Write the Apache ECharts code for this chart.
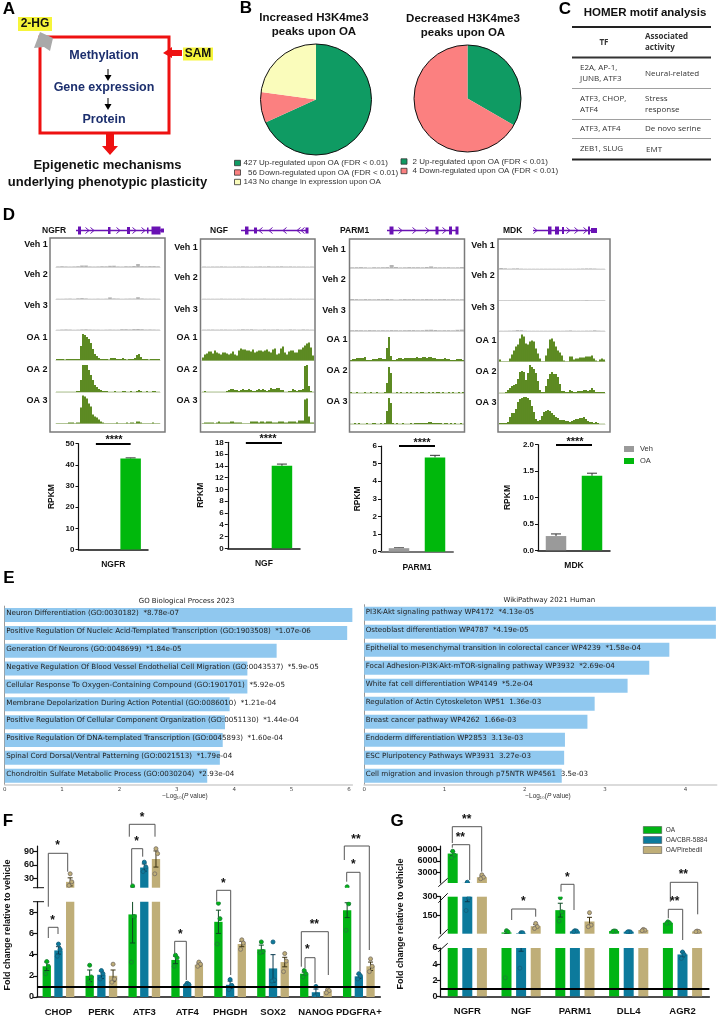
<!DOCTYPE html>
<html><head><meta charset="utf-8">
<style>html,body{margin:0;padding:0;background:#fff}#c{width:719px;height:1017px}</style>
<script src="https://cdn.jsdelivr.net/npm/echarts@6/dist/echarts.min.js"></script>
</head><body><div id="c"></div>
<script>
// ---------- Panel B ----------
const pieIncreasedNames = ['427 Up-regulated upon OA (FDR < 0.01)','56 Down-regulated upon OA (FDR < 0.01)','143 No change in expression upon OA'];
const pieIncreased = [427,56,143];
const pieDecreasedNames = ['2 Up-regulated upon OA (FDR < 0.01)','4 Down-regulated upon OA (FDR < 0.01)'];
const pieDecreased = [2,4];
// ---------- Panel D tracks ----------
const NGFR_Veh1=[.6,.8,.6,.5,.6,.8,1.5,1.5,.6,.5,.6,.8,.7,1.2,1.3,.6,.5,.8,.7,1,3,.8,.7,.9,.9,.7];
const NGFR_Veh2=[.3,.3,.4,.5,.3,.7,.9,.6,.3,.3,.4,.3,.4,1.6,.6,.5,.3,.4,.5,.5,1.8,.6,.4,.4,.4,.3];
const NGFR_Veh3=[.3,.5,.6,.5,.3,.4,.6,.7,.5,.4,.4,.3,.4,.5,.4,.4,.8,.8,.6,.9,1,.8,.5,.6,.5,.4];
const NGF_Veh1=[.5,.4,.5,.5,.6,.5,.4,.5,.5,.6,.5,.4,.5,.6,.5,.7,.5,.6,.7,.5,.6,.5,.5,.5,.4,.5];
const NGF_Veh2=[.3,.3,.3,.3,.4,.3,.3,.3,.3,.4,.3,.3,.3,.3,.4,.3,.3,.3,.3,.3,.4,.3,.3,.3,.3,.3];
const NGF_Veh3=[.4,.5,.5,.4,.5,.5,.4,.4,.5,.7,.6,.7,.5,.4,.6,.5,.5,.6,.4,.4,.6,.5,.4,.6,.5,.4];
const PARM1_Veh1=[.7,.8,.9,.7,.5,.8,.7,.8,.9,3,1,.6,.7,.9,.8,.8,.7,1,1.6,.8,.7,.7,.8,.6,.7,1];
const PARM1_Veh2=[1,.9,.7,.9,.8,.7,.9,.8,1,.8,.4,.7,.9,.8,.9,.7,.8,.9,.8,.7,.8,.9,.7,.8,.7,.8];
const PARM1_Veh3=[.8,.9,.8,.7,.9,.8,.7,.8,.7,.9,.8,.7,.8,.9,.9,.7,.8,1.2,1.3,1,.7,.8,.8,.7,1.2,1.4];
const MDK_Veh1=[1,.7,.4,.6,.7,.4,.3,.3,.3,.3,.3,.3,.3,.3,.3,.3,.3,.3,.3,.4,.5,.6,.6,.5,.3,.3];
const MDK_Veh2=[.2,.2,.2,.2,.2,.2,.2,.2,.2,.2,.2,.2,.2,.2,.2,.2,.2,.2,.2,.2,.2,.5,.2,.2,.2,.2];
const MDK_Veh3=[.3,.3,.4,.5,.9,.8,.4,.3,.3,.3,.3,.3,.3,.3,.3,.3,.4,.6,.3,.3,.3,.4,.4,.7,.4,.3];
const NGFR_OA1=[1,1,1,1,.5,1,1,1,1,1,1,1,14,26,25,23,21,17,11,6,4,2,1,1,1,1,.5,2,2,2,1,1,1,2,1,.5,1,1,1,2,5,6,3,1,1,1,.5,1,1,1,1,1];
const NGFR_OA2=[.3,.3,.3,.3,.3,.3,.3,.3,.3,.3,1,1,12,27,27,27,22,17,12,7,5,3,2,1,1,1,.3,.3,.3,1,.3,.3,.3,1,1,.3,.3,1,.3,.3,1,2,1,.3,.3,1,.3,.3,1,1,.3,.3];
const NGFR_OA3=[.3,.3,.3,.3,.3,.3,1,1,1,.3,1,1,16,28,27,25,20,17,9,7,6,4,2,1,.3,.3,.3,.3,.3,.3,1,.3,.3,.3,.3,1,.3,1,1,.3,2,2,1,.3,.3,.3,.3,.3,1,.3,.3,.3];
const NGF_OA1=[3,6,7,9,9,7,10,8,7,6,8,8,7,6,7,9,6,5,10,12,11,11,10,10,9,11,8,9,10,10,9,10,11,9,8,11,12,6,7,12,14,8,6,9,10,10,8,8,11,11,13,15,17,18,13,5];
const NGF_OA2=[.3,1,.3,.3,.3,.3,.3,.3,.3,.3,.3,.3,1,2,3,3,2,2,1,2,3,2,2,3,2,1,1,2,3,2,3,2,1,2,4,3,3,4,4,2,2,.3,.3,1,1,3,2,1,2,2,3,26,27,6,1,.3];
const NGF_OA3=[.3,1,1,1,1,1,.3,1,2,1,1,1,1,1,2,2,1,1,1,1,.3,.3,.3,.3,2,2,2,2,1,2,2,1,2,2,2,1,1,1,2,2,2,1,1,2,2,2,2,1,3,3,3,24,25,7,1,1];
const PARM1_OA1=[1,2,2,3,3,3,3,4,1,1,1,2,2,2,3,3,2,2,13,24,5,1,1,2,3,3,2,3,3,3,3,3,3,4,3,3,4,4,3,4,4,3,3,2,2,2,2,3,2,2,1,1,1,2,2,2,1];
const PARM1_OA2=[1,.3,.3,1,.3,.3,.3,1,.3,.3,1,.3,.3,1,.3,.3,.3,1,10,26,20,.3,.3,1,.3,1,.3,.3,1,.3,1,.3,.3,1,.3,1,1,.3,.3,1,.3,1,.3,1,1,.3,1,.3,.3,1,.3,1,.3,.3,1,.3,1];
const PARM1_OA3=[.3,.3,1,.3,1,.3,.3,.3,1,.3,.3,1,1,.3,.3,1,.3,1,13,26,21,1,.3,1,.3,.3,1,.3,.3,.3,1,.3,1,1,1,1,1,1,1,2,2,1,1,1,1,1,.3,1,1,.3,1,.3,1,.3,.3,1,.3];
const MDK_OA1=[2,.3,.3,.3,.3,3,7,11,15,17,23,27,25,18,17,20,21,20,13,8,3,.3,.3,6,13,22,23,20,15,11,9,6,1,.3,.3,5,5,2,3,3,4,4,4,5,5,5,6,3,1,.3,2,3,2];
const MDK_OA2=[.3,.3,.3,1,3,5,7,8,9,14,21,22,21,13,20,28,26,24,20,12,3,1,1,7,14,19,21,19,19,16,9,2,2,1,1,3,2,1,1,2,2,2,3,3,2,3,5,3,1,1,1,1,1];
const MDK_OA3=[1,1,1,1,2,7,11,11,15,22,25,26,27,27,26,24,18,12,5,3,4,8,12,13,14,13,11,9,7,6,4,4,4,3,3,2,3,4,5,5,6,6,7,5,3,2,2,1,2,1,.3,.3,.3];
// ---------- Panel D RPKM ----------
const rpkmGenes=['NGFR','NGF','PARM1','MDK'];
const rpkmGroups=['Veh','OA'];
const rpkmVeh=[0,0,0.2,0.27];
const rpkmVehErr=[0,0,0.02,0.04];
const rpkmOA=[43,14,5.35,1.41];
const rpkmOAErr=[0.3,0.3,0.12,0.05];
const rpkmMax=[50,18,6,2];
const rpkmStep=[10,2,1,0.5];
// ---------- Panel E ----------
const goTerms=['Neuron Differentiation (GO:0030182)  *8.78e-07','Positive Regulation Of Nucleic Acid-Templated Transcription (GO:1903508)  *1.07e-06','Generation Of Neurons (GO:0048699)  *1.84e-05','Negative Regulation Of Blood Vessel Endothelial Cell Migration (GO:0043537)  *5.9e-05','Cellular Response To Oxygen-Containing Compound (GO:1901701)  *5.92e-05','Membrane Depolarization During Action Potential (GO:0086010)  *1.21e-04','Positive Regulation Of Cellular Component Organization (GO:0051130)  *1.44e-04','Positive Regulation Of DNA-templated Transcription (GO:0045893)  *1.60e-04','Spinal Cord Dorsal/Ventral Patterning (GO:0021513)  *1.79e-04','Chondroitin Sulfate Metabolic Process (GO:0030204)  *2.93e-04'];
const goScores=[6.06,5.97,4.74,4.23,4.23,3.92,3.84,3.80,3.75,3.53];
const wikiTerms=['PI3K-Akt signaling pathway WP4172  *4.13e-05','Osteoblast differentiation WP4787  *4.19e-05','Epithelial to mesenchymal transition in colorectal cancer WP4239  *1.58e-04','Focal Adhesion-PI3K-Akt-mTOR-signaling pathway WP3932  *2.69e-04','White fat cell differentiation WP4149  *5.2e-04','Regulation of Actin Cytoskeleton WP51  1.36e-03','Breast cancer pathway WP4262  1.66e-03','Endoderm differentiation WP2853  3.13e-03','ESC Pluripotency Pathways WP3931  3.27e-03','Cell migration and invasion through p75NTR WP4561  3.5e-03'];
const wikiScores=[4.38,4.38,3.80,3.55,3.28,2.87,2.78,2.50,2.49,2.46];
// ---------- Panel F ----------
const fCats=['CHOP','PERK','ATF3','ATF4','PHGDH','SOX2','NANOG','PDGFRA+'];
const fOA=[2.9,2.0,7.8,3.5,7.1,4.5,2.2,8.2];
const fOAErr=[.4,.55,2.7,.35,1.1,.4,.15,.7];
const fOADots=[[3.35,2.9,2.2],[3.0,1.9,1.4],[13,7.6,3.3],[3.95,3.7,2.9],[8.85,7.4,5.0],[5.2,4.3,4.2],[2.5,2.2,1.9],[11,8.8,6.3]];
const fCBR=[4.4,2.1,54,1.2,1.15,2.7,.45,1.95];
const fCBRErr=[.35,.35,8,.08,.35,1.3,.3,.2];
const fCBRDots=[[5.0,4.5,3.85],[2.5,2.2,1.7],[66,55,45],[1.3,1.2,1.1],[1.65,1.1,.7],[5.2,1.6,1.5],[1.0,.2,.1],[2.2,2.0,1.7]];
const fPir=[22,2.0,73,3.05,5.0,3.3,.55,2.9];
const fPirErr=[9,.55,18,.15,.25,.45,.1,.4];
const fPirDots=[[40,22,14],[3.1,1.7,1.4],[96,85,40],[3.3,3.1,2.9],[5.4,5.1,4.5],[4.1,3.4,2.4],[.7,.6,.4],[3.6,2.9,2.4]];
// ---------- Panel G ----------
const gCats=['NGFR','NGF','PARM1','DLL4','AGR2'];
const gOA=[7900,16,193,27,93];
const gOAErr=[500,8,55,1,3];
const gOADots=[[8500,7500,6800],[30,20,2.3],[292,180,106],[28,26,24],[100,92,88]];
const gCBR=[320,10,25,22,5.2];
const gCBRErr=[60,4.4,3,1,.3];
const gCBRDots=[[500,290,190],[14,13,3.5],[30,27,22],[22,20,19],[5.5,5.2,4.7]];
const gPir=[1800,66,103,35,24];
const gPirErr=[300,12,33,3,2];
const gPirDots=[[2400,1800,1400],[88,62,48],[173,75,62],[40,34,30],[27,24,22]];
const seriesNames=['OA','OA/CBR-5884','OA/Pirebedil'];

// ---------- layout / drawing ----------
const GREEN='#00b414',TEAL='#0c7a9c',TAN='#bfae78';
const DOTEDGE=['#1b7f38','#14607c','#7d7468'], ERRCOL=['#0d4a22','#0a3a50','#3a3010'];
const SANS='"Liberation Sans",Arial,sans-serif';
const option={animation:false,backgroundColor:'#fff',textStyle:{fontFamily:SANS},grid:[],xAxis:[],yAxis:[],series:[],graphic:{elements:[]}};
const G=option.graphic.elements;
const Z=60;
function T(text,x,y,o){o=o||{};G.push({type:'text',z:Z,silent:true,x:x,y:y,rotation:o.rot||0,style:{text:text,fontFamily:o.font||SANS,fontSize:o.size||9,fontWeight:o.w||'normal',fontStyle:o.st||'normal',fill:o.c||'#111',align:o.a||'center',verticalAlign:'middle',rich:o.rich}});}
function L(pts,c,w){G.push({type:'polyline',z:Z,silent:true,shape:{points:pts},style:{stroke:c||'#555',lineWidth:w||1,fill:null}});}
function P(pts,c){G.push({type:'polygon',z:Z,silent:true,shape:{points:pts},style:{fill:c}});}
function R(x,y,w,h,f,s,lw){G.push({type:'rect',z:Z-1,silent:true,shape:{x,y,width:w,height:h},style:{fill:f||'transparent',stroke:s||null,lineWidth:lw||0}});}
const letter=(t,x,y)=>T(t,x,y,{size:17,w:'bold',c:'#000'});
letter('A',9,9);letter('B',246,8);letter('C',565,9);letter('D',9,215);letter('E',9,578);letter('F',8,821);letter('G',397,821);

// Panel A schematic
R(40,37,129,96,null,'#ee1111',3);
const NAVY='#1c2f6e';
T('Methylation',104,55.5,{size:12.5,w:'bold',c:NAVY});
T('Gene expression',104,87.5,{size:12.5,w:'bold',c:NAVY});
T('Protein',104,120,{size:12.5,w:'bold',c:NAVY});
L([[108,69],[108,77]],'#000',1);P([[104.5,75],[111.5,75],[108,81]],'#000');
L([[108,98],[108,106]],'#000',1);P([[104.5,104],[111.5,104],[108,110]],'#000');
P([[106,134],[114,134],[114,146],[118,146],[110,155],[102,146],[106,146]],'#ee1111');
P([[182,50],[172,50],[172,47],[163,53],[172,58],[172,56],[182,56]],'#ee1111');
P([[34,48],[40,32],[53,38],[50,51],[44,47]],'#a9a9a9');
R(18,17,34,14,'#f6f53a');R(183,47.5,30,13,'#f6f53a');
T('2-HG',35,24,{size:12,w:'bold'});T('SAM',198,53.5,{size:12,w:'bold'});
T('Epigenetic mechanisms',107.5,165.5,{size:13,w:'bold'});
T('underlying phenotypic plasticity',107.5,182,{size:13,w:'bold'});

// Panel B pies
const PIEC=['#0f9b63','#fb8080','#fafcbb'];
function pie(names,vals,c,r){
  option.series.push({type:'pie',center:c,radius:[0,r],startAngle:90,clockwise:true,silent:true,label:{show:false},labelLine:{show:false},
    data:vals.map((v,i)=>({name:names[i],value:v,itemStyle:{color:PIEC[i]}}))});
  G.push({type:'circle',z:Z,silent:true,shape:{cx:c[0],cy:c[1],r:r},style:{fill:'transparent',stroke:'#111',lineWidth:1}});
}
pie(pieIncreasedNames,pieIncreased,[316,99.5],55.5);
pie(pieDecreasedNames,pieDecreased,[467.5,98.5],53.5);
T('Increased H3K4me3',314,18,{size:11.5,w:'bold'});T('peaks upon OA',314,32,{size:11.5,w:'bold'});
T('Decreased H3K4me3',463,19,{size:11.5,w:'bold'});T('peaks upon OA',463,33,{size:11.5,w:'bold'});
[[243.5,163],[248,172.5],[243.5,182]].forEach((p,i)=>{R(234.5,p[1]-2.7,6,5.4,PIEC[i],'#333',.8);T(pieIncreasedNames[i],p[0],p[1],{size:8,a:'left',c:'#333'});});
[[412.5,161.5],[412.5,171]].forEach((p,i)=>{R(401,p[1]-2.7,6,5.4,PIEC[i],'#333',.8);T(pieDecreasedNames[i],p[0],p[1],{size:8,a:'left',c:'#333'});});

// Panel C table
const OS='"Open Sans",sans-serif';
T('HOMER motif analysis',645,13,{size:11.5,w:'bold'});
[[27,2,'#222'],[57.5,2,'#333'],[88.5,.8,'#888'],[119.5,.8,'#888'],[138.5,.8,'#888'],[159.5,2,'#222']].forEach(l=>L([[572,l[0]],[711,l[0]]],l[2],l[1]));
const tb=(t,x,y,o)=>T(t,x,y,Object.assign({size:8,font:OS,a:'left',c:'#333'},o||{}));
tb('TF',604,43,{a:'center',w:'bold'});tb('Associated',645,37,{w:'bold'});tb('activity',645,48,{w:'bold'});
tb('E2A, AP-1,',580,68);tb('JUNB, ATF3',580,79);tb('Neural-related',645,73.5);
tb('ATF3, CHOP,',580,99);tb('ATF4',580,110);tb('Stress',645,99);tb('response',645,110);
tb('ATF3, ATF4',580,129);tb('De novo serine',645,129);tb('ZEB1, SLUG',580,149);tb('EMT',646,149.5);

// Panel D tracks
function track(arr,left,right,base,color,lineCol){
  const i=option.grid.length;
  option.grid.push({left:left,width:right-left,top:base-29,height:29});
  option.xAxis.push({type:'category',gridIndex:i,data:arr.map((_,k)=>k),axisLabel:{show:false},axisTick:{show:false},axisLine:{show:true,onZero:false,lineStyle:{color:lineCol,width:1}}});
  option.yAxis.push({type:'value',gridIndex:i,min:0,max:29,show:false,splitLine:{show:false}});
  option.series.push({type:'bar',xAxisIndex:i,yAxisIndex:i,data:arr,barCategoryGap:'8%',silent:true,itemStyle:{color:color}});
}
const tracks=[
 {name:'NGFR',l:56,r:160,base:[267,299,330,360,392,423.5],data:[NGFR_Veh1,NGFR_Veh2,NGFR_Veh3,NGFR_OA1,NGFR_OA2,NGFR_OA3],box:[50,238,115,194],gx:42,lx:[36,36,36,37,37,37],ly:[245,275,306,338,370,401]},
 {name:'NGF',l:202,r:314,base:[267,299,330,360.5,392,423.5],data:[NGF_Veh1,NGF_Veh2,NGF_Veh3,NGF_OA1,NGF_OA2,NGF_OA3],box:[200.5,239,114.5,193],gx:210,lx:[186,186,186,187,187,187],ly:[248,278,310,338,370,401]},
 {name:'PARM1',l:350,r:464,base:[268,300,331,361,393,424],data:[PARM1_Veh1,PARM1_Veh2,PARM1_Veh3,PARM1_OA1,PARM1_OA2,PARM1_OA3],box:[349.5,239,115,193],gx:340,lx:[334,334,334,337,337,337],ly:[250,280,311,340,371,402]},
 {name:'MDK',l:499,r:605,base:[269,300.5,331,361.5,393,424],data:[MDK_Veh1,MDK_Veh2,MDK_Veh3,MDK_OA1,MDK_OA2,MDK_OA3],box:[498,239,112,193],gx:503,lx:[483,483,483,486,486,486],ly:[246,276,308,341,372,403]}
];
const trackLabels=['Veh 1','Veh 2','Veh 3','OA 1','OA 2','OA 3'];
tracks.forEach(t=>{
  t.data.forEach((d,i)=>track(d,t.l,t.r,t.base[i],i<3?'#b4b4b4':'#4f8010',i<3?'#d6d6d6':'#cfd8c0'));
  R(t.box[0],t.box[1],t.box[2],t.box[3],null,'#7a7a7a',1.5);
  T(t.name,t.gx,231,{size:8.5,w:'bold',a:'left'});
  trackLabels.forEach((s,i)=>T(s,t.lx[i],t.ly[i],{size:9,w:'bold'}));
});
// gene models
const PUR='#6a12b4';
function gene(x1,x2,exons,chev,dir){
  const y=230.5;L([[x1,y],[x2,y]],PUR,1.4);
  exons.forEach(e=>R(e[0],y-e[2]/2,e[1],e[2],PUR));
  chev.forEach(x=>L([[x-dir*2.5,y-3],[x+dir*1,y],[x-dir*2.5,y+3]],PUR,1));
}
gene(76,162,[[78,3,8],[108,2.5,7],[127,3,7],[147,1.5,6],[151.5,9,8],[160.5,3.5,4]],[88,93,119,135,144],1);
gene(241,308,[[245,3.5,8],[254,3,6],[305.5,3,6]],[260,270,284,298,302],-1);
gene(387,458,[[389.5,4,8],[435.5,3,8],[449,3,8],[455.5,3,8]],[401,415,428,445],1);
gene(533,597,[[548,3.5,8],[555,4,8],[562,2,7],[588,2,8],[591,6,5]],[536,569,577,586],1);

// Panel D RPKM bars
const rpkmGeo=[
 {l:78.5,r:148,t:443.7,b:549.5,n:22,sx:114,sy:437,ax:'#111',aw:1.5},
 {l:227.8,r:300,t:442.3,b:548.3,n:23,sx:268,sy:436,ax:'#111',aw:1.5},
 {l:381,r:453,t:446,b:551.7,n:19,sx:422,sy:440,ax:'#777',aw:2},
 {l:538,r:610,t:444.7,b:550.3,n:26,sx:575,sy:439,ax:'#111',aw:1.5}];
rpkmGenes.forEach((g,k)=>{
  const o=rpkmGeo[k],i=option.grid.length;
  option.grid.push({left:o.l,width:o.r-o.l,top:o.t,height:o.b-o.t});
  option.xAxis.push({type:'category',gridIndex:i,data:rpkmGroups,axisTick:{show:false},axisLabel:{show:false},axisLine:{lineStyle:{color:o.ax,width:o.aw}},name:g,nameLocation:'middle',nameGap:11,nameTextStyle:{fontSize:8.5,fontWeight:'bold',color:'#111'}});
  option.yAxis.push({type:'value',gridIndex:i,min:0,max:rpkmMax[k],interval:rpkmStep[k],splitLine:{show:false},name:'RPKM',nameLocation:'middle',nameGap:o.n,nameTextStyle:{fontSize:8.5,fontWeight:'bold',color:'#111'},axisLine:{show:true,lineStyle:{color:'#111',width:1.2}},axisTick:{show:true,length:3,lineStyle:{color:'#111'}},axisLabel:{fontSize:8,margin:4,color:'#111',fontWeight:'bold',formatter:k===3?(v=>v.toFixed(1)):undefined}});
  option.series.push({type:'bar',xAxisIndex:i,yAxisIndex:i,silent:true,barWidth:20.5,
    data:[{value:rpkmVeh[k],itemStyle:{color:'#9a9a9a'}},{value:rpkmOA[k],itemStyle:{color:'#00b80c'}}],
    markLine:{silent:true,symbol:'none',label:{show:false},lineStyle:{color:'#000',width:2,type:'solid'},data:[[{coord:['Veh',rpkmMax[k]]},{coord:['OA',rpkmMax[k]]}]]}});
  option.series.push({type:'custom',xAxisIndex:i,yAxisIndex:i,silent:true,data:[[0,rpkmVeh[k],rpkmVehErr[k]],[1,rpkmOA[k],rpkmOAErr[k]]],
    renderItem:(p,api)=>{const e=api.value(2);if(!e)return null;const c=api.coord([api.value(0),api.value(1)]),u=api.coord([api.value(0),api.value(1)+e]);
      const st={stroke:'#333',lineWidth:1};return {type:'group',children:[{type:'line',shape:{x1:c[0],y1:c[1],x2:u[0],y2:u[1]},style:st},{type:'line',shape:{x1:c[0]-5,y1:u[1],x2:c[0]+5,y2:u[1]},style:st}]};}});
  T('****',o.sx,o.sy+2.5,{size:11,w:'bold'});
});
R(624,446,10,6,'#9a9a9a');R(624,458,10,6,'#00b80c');
T('Veh',640,449,{size:7.5,a:'left',c:'#333'});T('OA',640,461,{size:7.5,a:'left',c:'#333'});

// Panel E
const DJ='"DejaVu Sans",sans-serif';
function enrich(terms,vals,left,unit,top,step,max,title,ticks){
  const i=option.grid.length,w=unit*max;
  option.grid.push({left:left,width:w,top:top,height:step*terms.length});
  option.xAxis.push({type:'value',gridIndex:i,min:0,max:max,splitLine:{show:false},axisLine:{show:true,lineStyle:{color:'#cfcfcf',width:1.5}},axisTick:{show:false},axisLabel:{fontSize:5.5,margin:2,color:'#444',customValues:ticks,fontFamily:DJ}});
  option.yAxis.push({type:'category',gridIndex:i,inverse:true,data:terms,axisLabel:{show:false},axisTick:{show:false},axisLine:{show:true,lineStyle:{color:'#9a9a9a',width:1}}});
  option.series.push({type:'bar',xAxisIndex:i,yAxisIndex:i,silent:true,data:vals,barWidth:14,itemStyle:{color:'#90c8ef'},
    label:{show:true,position:'insideLeft',distance:1.5,offset:[0,-1.5],fontFamily:DJ,fontSize:7.15,color:'#222',formatter:p=>p.name}});
  T(title,left+w*0.525,top-4.5,{size:7,font:DJ,c:'#222'});
}
enrich(goTerms,goScores,3.3,57.6,606.1,17.85,6.06,'GO Biological Process 2023',[0,1,2,3,4,5,6]);
enrich(wikiTerms,wikiScores,364.2,80.3,604.7,18,4.39,'WikiPathway 2021 Human',[0,1,2,3,4]);
const richLog={n:{fontFamily:SANS,fontSize:6.5,fill:'#333'},i:{fontFamily:SANS,fontSize:6.5,fontStyle:'italic',fill:'#333'}};
T('{n|−Log₁₀(}{i|P}{n| value)}',185,796,{rich:richLog});
T('{n|−Log₁₀(}{i|P}{n| value)}',548,796,{rich:richLog});

// Panels F and G: broken-axis grouped bars
function broken(cats,left,right,segs,barW,barStep,sets){
  segs.forEach((s,si)=>{
    const i=option.grid.length,isBottom=si===segs.length-1;
    option.grid.push({left:left,width:right-left,top:s.top,height:s.bottom-s.top});
    option.xAxis.push({type:'category',gridIndex:i,data:cats,axisTick:{show:false},
      axisLine:{show:isBottom,onZero:false,lineStyle:{color:'#111',width:1.5}},
      axisLabel:{show:isBottom,interval:0,fontSize:9.5,fontWeight:'bold',color:'#111',margin:10}});
    option.yAxis.push({type:'value',gridIndex:i,min:s.min,max:s.max,splitLine:{show:false},
      axisLine:{show:true,onZero:false,lineStyle:{color:'#111',width:1.2}},
      axisTick:{show:true,length:4,lineStyle:{color:'#111',width:1.2},customValues:s.ticks},
      axisLabel:{fontSize:9,fontWeight:'bold',color:'#111',margin:3,customValues:s.ticks,formatter:v=>String(v)}});
    sets.forEach((st,k)=>{
      const ser={type:'bar',name:seriesNames[k],xAxisIndex:i,yAxisIndex:i,silent:true,data:st.v.map(v=>v>s.min?v:'-'),clip:true,barWidth:barW,barGap:((barStep-barW)/barW*100).toFixed(0)+'%',itemStyle:{color:st.c}};
      if(isBottom&&k===0)ser.markLine={silent:true,symbol:'none',label:{show:false},lineStyle:{color:'#000',width:2,type:'solid'},data:[{yAxis:1}]};
      option.series.push(ser);
      option.series.push({type:'custom',xAxisIndex:i,yAxisIndex:i,silent:true,clip:true,z:4,encode:{x:0,y:1},
        data:st.v.map((v,j)=>[j,v,st.e[j],st.d[j][0],st.d[j][1],st.d[j][2]]),
        renderItem:(p,api)=>{
          const off=(k-1)*barStep,x=api.value(0),v=api.value(1),e=api.value(2);
          const hi=v+e,lo=Math.max(v-e,0);
          const cx=api.coord([x,s.min])[0]+off;
          const ch=[];
          const ss={stroke:ERRCOL[k],lineWidth:1};
          const inR=u=>u>=s.min&&u<=s.max;
          if(hi>s.min&&lo<s.max){
            const y1=api.coord([x,Math.min(hi,s.max)])[1],y2=api.coord([x,Math.max(lo,s.min)])[1];
            ch.push({type:'line',shape:{x1:cx,y1:y1,x2:cx,y2:y2},style:ss});
            if(inR(hi))ch.push({type:'line',shape:{x1:cx-2.5,y1:y1,x2:cx+2.5,y2:y1},style:ss});
            if(inR(lo))ch.push({type:'line',shape:{x1:cx-2.5,y1:y2,x2:cx+2.5,y2:y2},style:ss});
          }
          [0,1.6,-1.2].forEach((jit,q)=>{const d=api.value(3+q);if(!inR(d))return;const yy=api.coord([x,d])[1];
            ch.push({type:'circle',shape:{cx:cx+jit,cy:yy,r:2},style:{fill:st.c,stroke:DOTEDGE[k],lineWidth:.9}});});
          return {type:'group',children:ch};
        }});
    });
  });
}
broken(fCats,37,380.3,[{top:846,bottom:887.7,min:9,max:102,ticks:[30,60,90]},{top:901.7,bottom:997.3,min:0,max:9,ticks:[0,2,4,6,8]}],8.3,11.7,
 [{v:fOA,e:fOAErr,d:fOADots,c:GREEN},{v:fCBR,e:fCBRErr,d:fCBRDots,c:TEAL},{v:fPir,e:fPirErr,d:fPirDots,c:TAN}]);
broken(gCats,440.4,709.4,[{top:846,bottom:883,min:300,max:9850,ticks:[3000,6000,9000]},{top:896.7,bottom:933.7,min:6,max:300,ticks:[150,300]},{top:948,bottom:996.3,min:0,max:6,ticks:[0,2,4,6]}],10,14.6,
 [{v:gOA,e:gOAErr,d:gOADots,c:GREEN},{v:gCBR,e:gCBRErr,d:gCBRDots,c:TEAL},{v:gPir,e:gPirErr,d:gPirDots,c:TAN}]);
T('Fold change relative to vehicle',8,925,{size:9,w:'bold',rot:Math.PI/2});
T('Fold change relative to vehicle',401,924,{size:9,w:'bold',rot:Math.PI/2});
L([[33,887.7],[44,887.7]],'#111',1);L([[33,901.7],[44,901.7]],'#111',1);
[[886.7,878.3],[902.7,893.3],[938.3,929.3],[951.7,943.3]].forEach(a=>L([[438.3,a[0]],[447.7,a[1]]],'#111',1));
// significance brackets: [x1,x2,top,leftEnd,rightEnd,stars,starX,starY]
const fBrackets=[[48.3,58,927.3,938,934,'*',52.7,918],[48.3,67.7,853.3,906.7,871.7,'*',57.7,843],[131.7,142.7,848.7,884,856.7,'*',136.7,839],[129.3,155,824.3,836.7,836.7,'*',142,815],[174.7,186.3,941.3,953,980,'*',180.3,931.7],[216.7,230.7,890.3,901.7,975,'*',223.3,881],[305,315,957.7,968,983,'*',307.3,947.3],[301.3,328.3,931.7,966.7,975,'**',314.3,922],[346.7,360,872.3,881.7,971.7,'*',353.3,862],[344.3,369.3,846,860,950,'**',356,837]];
const gBrackets=[[452.3,481.7,826.7,843,871.7,'**',466.7,817],[452.3,469.7,844.7,847.7,880,'**',460.3,835],[511.7,535.7,909,920,916.7,'*',523.3,899],[561,574,884.3,891.7,910,'*',567.3,875],[670.3,697.7,882.3,901.7,914.3,'**',683.3,872.3],[668.3,682.7,909.3,918.3,940,'**',674.7,899.3]];
fBrackets.concat(gBrackets).forEach(b=>{L([[b[0],b[3]],[b[0],b[2]],[b[1],b[2]],[b[1],b[4]]],'#555',1);T(b[5],b[6],b[7]+2.5,{size:12,w:'bold'});});
// legend G
[GREEN,TEAL,TAN].forEach((c,i)=>{R(643.3,826.5+i*10,18.4,7,c,'#444',.5);T(seriesNames[i],665.7,830+i*10,{size:6.5,a:'left',c:'#333'});});

const chart=echarts.init(document.getElementById('c'),null,{renderer:'canvas'});
chart.setOption(option);
</script></body></html>
